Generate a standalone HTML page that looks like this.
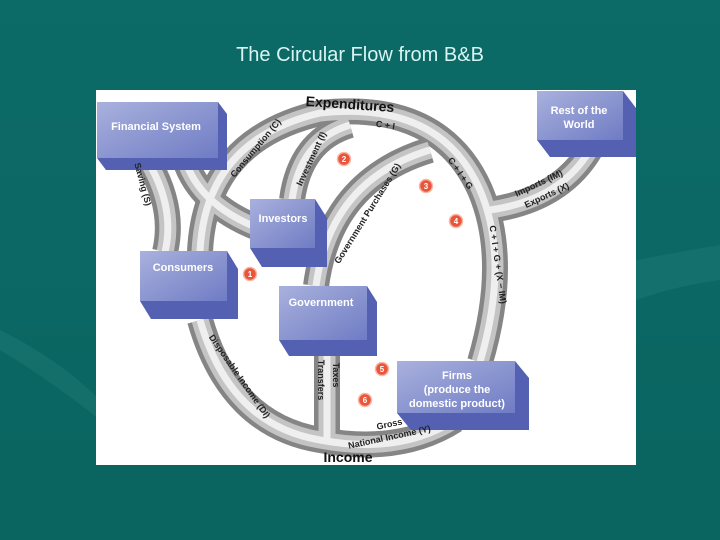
<!DOCTYPE html>
<html><head><meta charset="utf-8"><style>
html,body{margin:0;padding:0;width:720px;height:540px;overflow:hidden;background:#0b6a66;}
svg{display:block}
text{font-family:"Liberation Sans",sans-serif;font-weight:bold;}
</style></head><body>
<svg width="720" height="540" viewBox="0 0 720 540" xmlns="http://www.w3.org/2000/svg">
<defs>
<linearGradient id="bg" x1="0" y1="0" x2="0" y2="1"><stop offset="0" stop-color="#0c6b67"/><stop offset="1" stop-color="#0a6460"/></linearGradient>
<linearGradient id="face" x1="0" y1="0" x2="1" y2="1"><stop offset="0" stop-color="#a9b1dd"/><stop offset="1" stop-color="#6f7cc4"/></linearGradient>
</defs>
<rect width="720" height="540" fill="url(#bg)"/>
<path d="M0 330 Q60 360 100 400 L100 420 Q50 380 0 350Z" fill="#2a8580" opacity="0.3"/>
<path d="M636 260 Q690 250 720 245 L720 280 Q680 285 636 300Z" fill="#2a8580" opacity="0.3"/>
<text x="360" y="61" text-anchor="middle" font-size="20" fill="#d8f4f2" style="font-weight:normal">The Circular Flow from B&amp;B</text>
<rect x="96" y="90" width="540" height="375" fill="#fff"/>

<g fill="none" stroke-linecap="butt">
<g stroke="#858585" stroke-width="26">
<path d="M165 252 Q175 210 150 165"/>
<path d="M185 160 Q200 205 258 228"/>
<path d="M200 252 Q205 140 320 113 Q440 100 480 190 Q510 260 480 362"/>
<path d="M455 420 Q400 455 320 440 Q230 425 200 320"/>
<path d="M292 200 Q300 140 350 125"/>
<path d="M316 286 Q330 180 430 150"/>
<path d="M490 210 Q560 200 590 150"/>
<path d="M327 356 L327 440"/>
</g>
<g stroke="#c4c4c4" stroke-width="17">
<path d="M165 252 Q175 210 150 165"/>
<path d="M185 160 Q200 205 258 228"/>
<path d="M200 252 Q205 140 320 113 Q440 100 480 190 Q510 260 480 362"/>
<path d="M455 420 Q400 455 320 440 Q230 425 200 320"/>
<path d="M292 200 Q300 140 350 125"/>
<path d="M316 286 Q330 180 430 150"/>
<path d="M490 210 Q560 200 590 150"/>
<path d="M327 356 L327 440"/>
</g>
<g stroke="#efefef" stroke-width="7">
<path d="M165 252 Q175 210 150 165"/>
<path d="M185 160 Q200 205 258 228"/>
<path d="M200 252 Q205 140 320 113 Q440 100 480 190 Q510 260 480 362"/>
<path d="M455 420 Q400 455 320 440 Q230 425 200 320"/>
<path d="M292 200 Q300 140 350 125"/>
<path d="M316 286 Q330 180 430 150"/>
<path d="M490 210 Q560 200 590 150"/>
<path d="M327 356 L327 440"/>
</g>
</g>

<g>
<path d="M97 158 L218 158 L227 170 L106 170Z M218 102 L227 114 L227 170 L218 158Z" fill="#5461b2"/>
<rect x="97" y="102" width="121" height="56" fill="url(#face)"/>
<path d="M537 140 L623 140 L636 157 L550 157Z M623 91 L636 108 L636 157 L623 140Z" fill="#5461b2"/>
<rect x="537" y="91" width="86" height="49" fill="url(#face)"/>
<path d="M250 248 L315 248 L327 267 L262 267Z M315 199 L327 218 L327 267 L315 248Z" fill="#5461b2"/>
<rect x="250" y="199" width="65" height="49" fill="url(#face)"/>
<path d="M140 301 L227 301 L238 319 L151 319Z M227 251 L238 269 L238 319 L227 301Z" fill="#5461b2"/>
<rect x="140" y="251" width="87" height="50" fill="url(#face)"/>
<path d="M279 340 L367 340 L377 356 L289 356Z M367 286 L377 302 L377 356 L367 340Z" fill="#5461b2"/>
<rect x="279" y="286" width="88" height="54" fill="url(#face)"/>
<path d="M397 413 L515 413 L529 430 L411 430Z M515 361 L529 378 L529 430 L515 413Z" fill="#5461b2"/>
<rect x="397" y="361" width="118" height="52" fill="url(#face)"/>
</g>
<g fill="#fff" font-size="11" text-anchor="middle">
<text x="156" y="130">Financial System</text>
<text x="579" y="114">Rest of the</text><text x="579" y="128">World</text>
<text x="283" y="222">Investors</text>
<text x="183" y="271">Consumers</text>
<text x="321" y="306">Government</text>
<text x="457" y="379">Firms</text>
<text x="457" y="393">(produce the</text>
<text x="457" y="407">domestic product)</text>
</g>

<g fill="#111" font-size="14" text-anchor="middle">
<text x="350" y="109" transform="rotate(4 350 104)">Expenditures</text>
<text x="348" y="462">Income</text>
</g>
<g fill="#222" font-size="9" text-anchor="middle">
<text x="0" y="0" transform="translate(140 185) rotate(75)">Saving (S)</text>
<text x="0" y="0" transform="translate(258 150) rotate(-50)">Consumption (C)</text>
<text x="0" y="0" transform="translate(314 160) rotate(-65)">Investment (I)</text>
<text x="385" y="128" transform="rotate(8 385 128)">C + I</text>
<text x="0" y="0" transform="translate(370 215) rotate(-58)">Government Purchases (G)</text>
<text x="0" y="0" transform="translate(458 175) rotate(55)">C + I + G</text>
<text x="0" y="0" transform="translate(540 186) rotate(-25)">Imports (IM)</text>
<text x="0" y="0" transform="translate(548 198) rotate(-25)">Exports (X)</text>
<text x="0" y="0" transform="translate(495 265) rotate(82)">C + I + G + (X − IM)</text>
<text x="0" y="0" transform="translate(237 378) rotate(55)">Disposable Income (DI)</text>
<text x="0" y="0" transform="translate(318 380) rotate(90)">Transfers</text>
<text x="0" y="0" transform="translate(333 375) rotate(90)">Taxes</text>
<text x="390" y="427" transform="rotate(-12 390 427)">Gross</text>
<text x="390" y="440" transform="rotate(-12 390 440)">National Income (Y)</text>
</g>

<g font-size="8" text-anchor="middle">
<g><circle cx="250" cy="274" r="6.5" fill="#e8553a" stroke="#f7b7a6" stroke-width="1.5"/><text x="250" y="277" fill="#fff">1</text></g>
<g><circle cx="344" cy="159" r="6.5" fill="#e8553a" stroke="#f7b7a6" stroke-width="1.5"/><text x="344" y="162" fill="#fff">2</text></g>
<g><circle cx="426" cy="186" r="6.5" fill="#e8553a" stroke="#f7b7a6" stroke-width="1.5"/><text x="426" y="189" fill="#fff">3</text></g>
<g><circle cx="456" cy="221" r="6.5" fill="#e8553a" stroke="#f7b7a6" stroke-width="1.5"/><text x="456" y="224" fill="#fff">4</text></g>
<g><circle cx="382" cy="369" r="6.5" fill="#e8553a" stroke="#f7b7a6" stroke-width="1.5"/><text x="382" y="372" fill="#fff">5</text></g>
<g><circle cx="365" cy="400" r="6.5" fill="#e8553a" stroke="#f7b7a6" stroke-width="1.5"/><text x="365" y="403" fill="#fff">6</text></g>
</g>
</svg>
</body></html>
